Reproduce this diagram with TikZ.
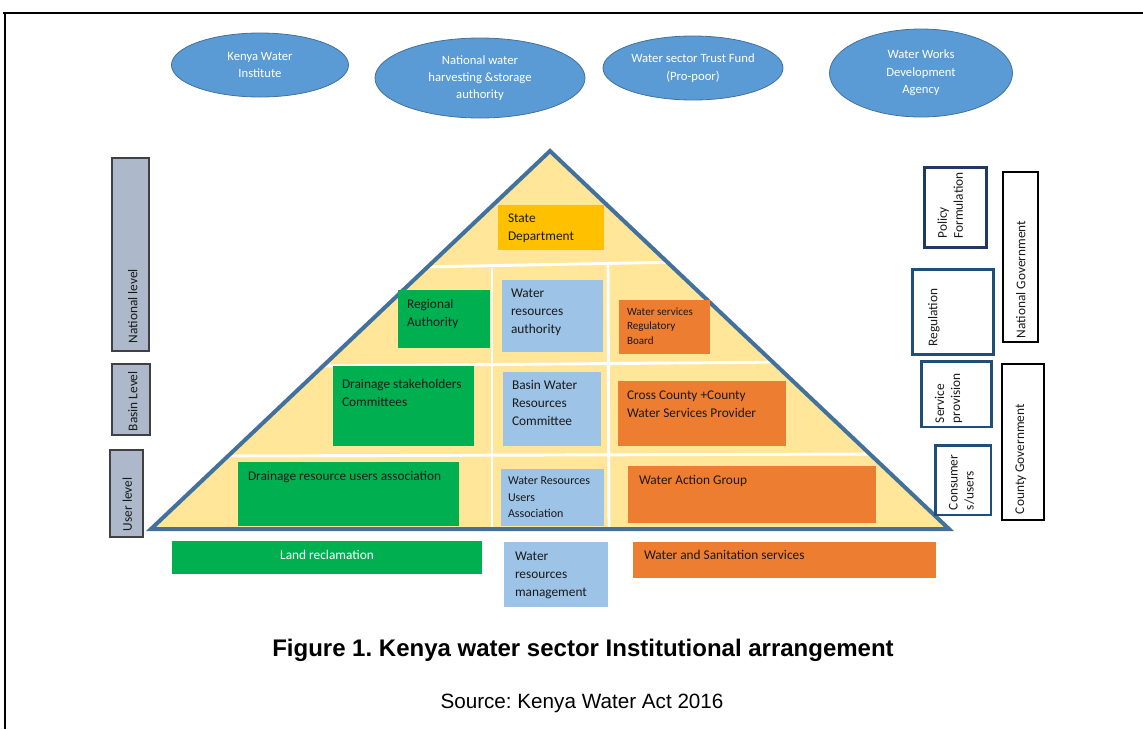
\documentclass[tikz,border=0pt]{standalone}
\usepackage{fontspec}
\setmainfont{Carlito}
\newfontfamily\arialfont{Liberation Sans}
\usetikzlibrary{shapes.geometric,fit}
\frenchspacing
\definecolor{ellblue}{HTML}{5B9BD5}
\definecolor{ellborder}{HTML}{41719C}
\definecolor{barfill}{HTML}{ADB9CA}
\definecolor{bargray}{HTML}{404040}
\definecolor{pyrfill}{HTML}{FFE699}
\definecolor{pyrborder}{HTML}{41719C}
\definecolor{grn}{HTML}{00B050}
\definecolor{lblue}{HTML}{9DC3E6}
\definecolor{orng}{HTML}{ED7D31}
\definecolor{gold}{HTML}{FFC000}
\definecolor{navy}{HTML}{1F3864}
\definecolor{navyb}{HTML}{1F4E79}
\definecolor{txtc}{HTML}{1A1A1A}
\begin{document}
\begin{tikzpicture}[x=0.75pt,y=-0.75pt,
  every node/.style={inner sep=0pt, outer sep=0pt},
  ell/.style={ellipse, fill=ellblue, draw=ellborder, line width=0.6pt, text=white, align=center,
    font=\fontsize{9.5}{13}\selectfont},
  bar/.style={fill=barfill, draw=bargray, line width=1.1pt},
  gbox/.style={fill=grn},
  bbox/.style={fill=lblue},
  obox/.style={fill=orng},
  ybox/.style={fill=gold},
  tx/.style={anchor=north west, align=left, text=txtc, font=\fontsize{10}{13.5}\selectfont},
  rtx/.style={rotate=90, anchor=north west, align=left, text=txtc, font=\fontsize{10}{12}\selectfont},
  rbox/.style={draw=navyb, line width=2.2pt, fill=white},
  gbx/.style={draw=black, line width=1.5pt, fill=white},
  wline/.style={draw=white, line width=2.2pt},
]
\useasboundingbox (0,0) rectangle (1143,729);

% frame
\coordinate (ftl) at (5,13);
\coordinate (ftr) at (1143,13);
\coordinate (fbl) at (5,729);
\coordinate (ftl0) at (3,13);
\draw[line width=2pt] (ftl0) -- (ftr);
\draw[line width=1.1pt] (ftl) -- (fbl);

% ellipses
\node[ell, minimum width=132.75pt, minimum height=48pt] (kwi) at (260,65) {Kenya Water\\Institute};
\node[ell, minimum width=157.5pt, minimum height=60pt] (nwh) at (480,78) {National water\\harvesting \&storage\\authority};
\node[ell, minimum width=135pt, minimum height=48pt] (wstf) at (693,68) {Water sector Trust Fund\\(Pro-poor)};
\node[ell, minimum width=137.25pt, minimum height=66pt] (wwda) at (921,73) {Water Works\\Development\\Agency};

% left level bars
\node[bar, fit={(112,158) (149,351)}] (natbar) {};
\node[bar, fit={(112,364) (150,435)}] (basbar) {};
\node[bar, fit={(110,450) (143,537)}] (usrbar) {};
\node[rtx] (natbar-t) at (128,343) {National level};
\node[rtx] (basbar-t) at (128,431) {Basin Level};
\node[rtx] (usrbar-t) at (122.5,531) {User level};

% pyramid
\coordinate (apex) at (550,151);
\coordinate (bl) at (151,529);
\coordinate (br) at (949,529);
\fill[pyrfill] (apex) -- (br) -- (bl) -- cycle;
\coordinate (h1a) at (420,267); \coordinate (h1b) at (685,262);
\coordinate (h2a) at (322,366); \coordinate (h2b) at (790,362);
\coordinate (h3a) at (226,456); \coordinate (h3b) at (879,454);
\coordinate (v1a) at (492,268); \coordinate (v1b) at (492,528);
\coordinate (v2a) at (608,265); \coordinate (v2b) at (609,528);
\draw[wline] (h1a) -- (h1b);
\draw[wline] (h2a) -- (h2b);
\draw[wline] (h3a) -- (h3b);
\draw[wline] (v1a) -- (v1b);
\draw[wline] (v2a) -- (v2b);
\draw[pyrborder, line width=3pt, line join=miter] (apex) -- (br) -- (bl) -- cycle;

% boxes inside the pyramid
\node[ybox, fit={(498,205) (604,250)}] (sd) {};
\node[tx] (sd-t) at ([shift={(10,8.5)}]sd.north west) {State\\Department};

\node[gbox, fit={(398,290) (490,348)}] (ra) {};
\node[tx] (ra-t) at ([shift={(9,9.5)}]ra.north west) {Regional\\Authority};

\node[bbox, fit={(502,280) (603,352)}] (wra) {};
\node[tx] (wra-t) at ([shift={(9,8.5)}]wra.north west) {Water\\resources\\authority};

\node[obox, fit={(619,300) (710,354)}] (wsrb) {};
\node[tx, font=\fontsize{8.3}{10.9}\selectfont] (wsrb-t) at ([shift={(8,7.5)}]wsrb.north west) {Water services\\Regulatory\\Board};

\node[gbox, fit={(333,366) (474,446)}] (dsc) {};
\node[tx] (dsc-t) at ([shift={(9,13.5)}]dsc.north west) {Drainage stakeholders\\Committees};

\node[bbox, fit={(503,372) (601,446)}] (bwrc) {};
\node[tx] (bwrc-t) at ([shift={(9,8.5)}]bwrc.north west) {Basin Water\\Resources\\Committee};

\node[obox, fit={(618,381) (786,446)}] (ccw) {};
\node[tx] (ccw-t) at ([shift={(9,9.5)}]ccw.north west) {Cross County +County\\Water Services Provider};

\node[gbox, fit={(238,462) (459,526)}] (drua) {};
\node[tx] (drua-t) at ([shift={(10,9.5)}]drua.north west) {Drainage resource users association};

\node[bbox, fit={(501,469) (604,526)}] (wrua) {};
\node[tx, font=\fontsize{9}{12.4}\selectfont] (wrua-t) at ([shift={(7,8)}]wrua.north west) {Water Resources\\Users\\Association};

\node[obox, fit={(628,466) (876,523)}] (wag) {};
\node[tx] (wag-t) at ([shift={(11,9.5)}]wag.north west) {Water Action Group};

% boxes below the pyramid
\node[gbox, fit={(172,541) (482,574)}] (lr) {};
\node[text=white, font=\fontsize{10}{13.5}\selectfont] (lr-t) at (327,555) {Land reclamation};

\node[bbox, fit={(504,542) (608,607)}] (wrm) {};
\node[tx] (wrm-t) at ([shift={(11,9.5)}]wrm.north west) {Water\\resources\\management};

\node[obox, fit={(633,542) (936,578)}] (wss) {};
\node[tx] (wss-t) at ([shift={(11,8.5)}]wss.north west) {Water and Sanitation services};

% right function boxes
\node[rbox, draw=navy, fit={(924.5,167.5) (986.5,247.5)}] (pf) {};
\node[rtx] (pf-t) at ([shift={(13,-9)}]pf.south west) {Policy\\Formulation};
\node[rbox, fit={(912.5,269.5) (993.5,354.5)}] (reg) {};
\node[rtx] (reg-t) at ([shift={(15.5,-8)}]reg.south west) {Regulation};
\node[rbox, fit={(921.5,361.5) (991.5,427)}] (sp) {};
\node[rtx] (sp-t) at ([shift={(13.5,-4)}]sp.south west) {Service\\provision};
\node[rbox, fit={(935.5,445.5) (991,515)}] (cu) {};
\node[rtx] (cu-t) at ([shift={(13.5,-5)}]cu.south west) {Consumer\\s/users};

\node[gbx, fit={(1003,172) (1038,342)}] (ng) {};
\node[rtx] (ng-t) at ([shift={(13,-4)}]ng.south west) {National Government};
\node[gbx, fit={(1002,364) (1044,520)}] (cg) {};
\node[rtx] (cg-t) at ([shift={(13.5,-6)}]cg.south west) {County Government};

% captions
\node[font=\arialfont\bfseries\fontsize{18}{22}\selectfont, text=black] (cap) at (583,650) {Figure 1. Kenya water sector Institutional arrangement};
\node[font=\arialfont\fontsize{15.5}{19}\selectfont, text=black] (src) at (582,703) {Source: Kenya Water Act 2016};
\end{tikzpicture}
\end{document}
